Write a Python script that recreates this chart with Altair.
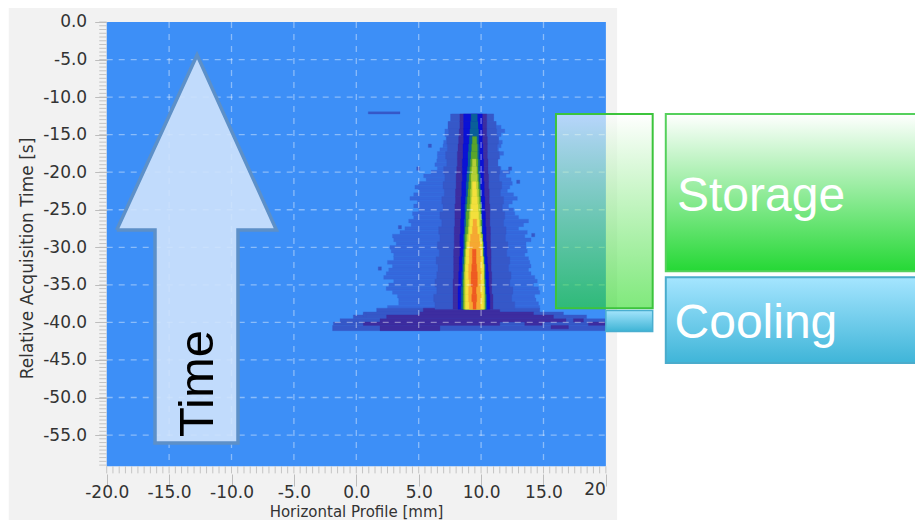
import altair as alt
import pandas as pd

# ---- scale: data units of the original plot, extended so the whole slide fits one view
X_DOMAIN = [-27.91, 44.77]
Y_DOMAIN = [-66.31, 1.864]
X_TICKS = [-20, -15, -10, -5, 0, 5, 10, 15, 20]
Y_TICKS = [0, -5, -10, -15, -20, -25, -30, -35, -40, -45, -50, -55]
X_MINOR = [v / 2 for v in range(-40, 41)]
Y_MINOR = [-v / 2 for v in range(0, 119)]
PLOT_X = [-20.0, 20.0]
PLOT_Y = [0.0, -59.15]

# ---- heat map rows
TOP = -12.25
HALO_L = [7.65,7.65,7.4,7.4,7.1,7.1,7.2,7.0,6.95,6.7,6.5,6.5,6.45,6.3,6.5,6.0,5.4,5.6,5.0,4.7,5.0,4.6,4.3,4.9,4.6,5.0,
          4.5,4.6,4.2,4.4,3.9,3.5,2.9,3.0,3.2,2.7,2.8,3.0,3.0,2.5,2.9,2.6,2.4,2.2,3.0,2.6,2.4,2.9,3.3,3.4,3.4,2.5]
HALO_R = [11.0,11.0,11.2,11.6,11.9,11.6,11.4,11.7,11.6,11.4,11.8,11.5,11.2,11.1,11.6,12.3,12.0,12.4,12.5,12.3,12.1,12.6,12.9,12.5,12.2,12.6,
          12.7,13.0,13.8,13.4,13.0,13.7,13.5,14.0,13.6,13.6,13.7,13.5,13.8,13.9,14.0,13.8,14.0,14.3,14.5,14.2,14.6,14.7,14.3,14.4,14.6,14.7]

MID_L = [7.55,7.35,7.4,7.25,7.3,7.15,7.25,7.0,7.1,6.95,7.05,6.85,6.95,6.7,6.85,6.6,6.7,6.5,6.65,6.4,6.55,6.45,6.3,6.45,6.2,6.3]
MID_R = [11.0,11.2,11.25,11.4,11.3,11.45,11.35,11.5,11.45,11.65,11.55,11.8,11.7,11.9,11.8,12.0,11.95,12.15,12.05,12.3,12.2,12.4,12.3,12.55,12.45,12.7]
PURPLE_L = [8.3,8.3,8.25,8.2,8.15,8.1,8.1,8.05,8.0,8.0,7.95,7.95,7.9,7.9,7.9,7.85,7.85,7.85,7.8,7.8,7.8,7.8,7.75,7.75,7.75,7.75]
PURPLE_R = [10.45,10.45,10.45,10.5,10.5,10.5,10.55,10.55,10.6,10.6,10.65,10.65,10.7,10.7,10.7,10.75,10.75,10.75,10.8,10.8,10.8,10.85,10.85,10.85,10.95,10.95]
BLUE_L = [8.6,8.6,8.6,8.6,8.55,8.55,8.5,8.5,8.5,8.45,8.45,8.4,8.4,8.4,8.35,8.35,8.3,8.3,8.3,8.25,8.25,8.2,8.2,8.15,8.15,8.15]
BLUE_R = [10.1,10.1,10.1,10.1,10.15,10.15,10.2,10.2,10.2,10.25,10.25,10.3,10.3,10.35,10.35,10.4,10.4,10.45,10.45,10.5,10.55,10.6,10.6,10.65,10.7,10.7]
TEAL_L = [9.2,9.15,9.1,9.05,9.0,8.95,8.95,8.9,8.85,8.8,8.8,8.75,8.7,8.7,8.65,8.65,8.6,8.6,8.55,8.5,8.5,8.45,8.45,8.4,8.4,8.4]
TEAL_R = [9.7,9.75,9.8,9.8,9.85,9.85,9.9,9.9,9.95,9.95,10.0,10.0,10.05,10.05,10.1,10.1,10.15,10.2,10.25,10.3,10.35,10.35,10.4,10.4,10.45,10.45]
GREEN_L = [9.3,9.25,9.2,9.15,9.1,9.05,9.0,8.95,8.9,8.85,8.8,8.8,8.75,8.7,8.7,8.65,8.65,8.6,8.6,8.55,8.55,8.55,8.55]
GREEN_R = [9.65,9.7,9.7,9.75,9.75,9.8,9.85,9.9,9.95,10.0,10.0,10.05,10.05,10.1,10.15,10.15,10.2,10.25,10.25,10.3,10.3,10.35,10.35]
LIME_L = [9.3,9.25,9.2,9.2,9.15,9.15,9.1,9.05,9.0,8.95,8.85,8.8,8.75,8.7,8.7,8.65,8.65,8.65,8.65,8.65]
LIME_R = [9.6,9.65,9.7,9.75,9.8,9.85,9.9,9.95,9.95,10.0,10.1,10.15,10.15,10.2,10.25,10.25,10.25,10.3,10.3,10.3]
YELLOW_L = [9.3,9.3,9.25,9.2,9.15,9.1,9.05,9.0,8.9,8.8,8.8,8.75,8.75,8.75,8.75,8.75,8.75]
YELLOW_R = [9.6,9.65,9.7,9.75,9.8,9.85,9.9,9.95,10.05,10.1,10.15,10.2,10.2,10.2,10.2,10.2,10.2]
ORANGE_L = [9.35,9.3,9.15,9.1,9.05,9.05,9.0,9.0,9.05,9.0,9.0,9.05]
ORANGE_R = [9.65,9.7,9.85,9.9,9.95,9.95,9.95,10.0,9.95,9.95,10.0,9.95]
RED_L = [9.3,9.3,9.25,9.2,9.2,9.3,9.25,9.35]
RED_R = [9.6,9.6,9.65,9.7,9.7,9.6,9.65,9.6]

BANDS = [
    ("#3658c8", 0, MID_L, MID_R),
    ("#3d2da0", 0, PURPLE_L, PURPLE_R),
    ("#0a12d6", 0, BLUE_L, BLUE_R),
    ("#0a5f98", 0, TEAL_L, TEAL_R),
    ("#5aa52a", 3, GREEN_L, GREEN_R),
    ("#b4cf35", 6, LIME_L, LIME_R),
    ("#f3e03c", 9, YELLOW_L, YELLOW_R),
    ("#f6a832", 14, ORANGE_L, ORANGE_R),
    ("#ef5a22", 18, RED_L, RED_R),
]
HALO_COLOR = "#3568dc"

BASE_Y = [-38.1, -38.6, -39.0, -39.5, -39.95, -40.4, -41.1]
BASE_L = [1.63, 0.56, -0.24, -1.3, -1.84, -1.9]
BASE_R = [14.7, 16.6, 18.45, 20.0, 20.0, 20.0]
FOOT_L = [5.37, 5.1, 2.43, 1.9, 0.56, 1.9]
FOOT_R = [11.5, 14.2, 15.8, 16.8, 11.5, 6.7]
PATCH_X = [17.4, 18.6, 13.5, 15.6]
PATCH_X2 = [18.2, 20.0, 14.9, 17.0]
PATCH_Y = [-39.5, -39.95, -39.95, -40.4]
PATCH_Y2 = [-39.95, -40.4, -40.4, -40.85]
STREAK = {"x": 0.96, "x2": 3.5, "y": -11.95, "y2": -12.25}
SPECK_X = [5.77, 3.37, 1.76, 14.05, 12.85, 12.2, 4.84, 0.56]
SPECK_Y = [-16.25, -27.1, -32.6, -28.15, -21.05, -19.3, -19.3, -38.8]

# ---- annotation shapes
ARROW_X = [-19.2, -16.13, -16.13, -12.76, -9.48, -9.48, -6.4]
ARROW_TOP = [-27.7, -16.59, -16.59, -4.4, -16.41, -16.41, -27.7]
ARROW_BOT = [-27.7, -27.7, -56.06, -56.06, -56.06, -27.7, -27.7]
OUTLINE_X = [-19.2, -12.76, -6.4, -9.48, -9.48, -16.13, -16.13, -19.2]
OUTLINE_Y = [-27.7, -4.4, -27.7, -27.7, -56.06, -56.06, -27.7, -27.7]

x_scale = alt.Scale(domain=X_DOMAIN, nice=False, zero=False)
y_scale = alt.Scale(domain=Y_DOMAIN, nice=False, zero=False)
AX_X = alt.Axis(
    values=X_TICKS, format=".1f", labelExpr="datum.value == 20 ? '' : replace(datum.label, '\u2212', '-')",
    offset=-46, domain=False, grid=False, tickSize=12, tickColor="#bdbdbd", labelPadding=-2,
    labelFont="DejaVu Sans", labelFontSize=17, labelColor="#333333", labelOverlap=False, labelFlush=False,
    title="Horizontal Profile [mm]", titleFont="DejaVu Sans", titleFontSize=15, titleFontWeight="normal",
    titleColor="#333333", titleX=348, titleY=42, titleBaseline="alphabetic", zindex=1)
AX_Y = alt.Axis(
    values=Y_TICKS, format=".1f", labelExpr="replace(datum.label, '\u2212', '-')", offset=-98.7, domain=False,
    grid=False, tickSize=12, tickColor="#bdbdbd",
    labelPadding=8, labelFont="DejaVu Sans", labelFontSize=17, labelColor="#333333", labelOverlap=False,
    title="Relative Acquisition Time [s]", titleFont="DejaVu Sans", titleFontSize=17, titleFontWeight="normal",
    titleColor="#333333", titlePadding=6, zindex=1, titleY=250)
X = lambda f: alt.X(f, type="quantitative", scale=x_scale, axis=AX_X)
Y = lambda f: alt.Y(f, type="quantitative", scale=y_scale, axis=AX_Y)


def vgrad(c0, c1):
    return alt.LinearGradient(gradient="linear", x1=0, x2=0, y1=0, y2=1,
                              stops=[alt.GradientStop(color=c0, offset=0), alt.GradientStop(color=c1, offset=1)])


def rects(rows, **kw):
    return alt.Chart(pd.DataFrame(rows)).mark_rect(**kw).encode(
        x=X("x"), x2=alt.X2("x2"), y=Y("y"), y2=alt.Y2("y2"))


def rows_df():
    out = []
    for i, (l, r) in enumerate(zip(HALO_L, HALO_R)):
        out.append(dict(x=l, x2=r, y=TOP - i * 0.5, y2=TOP - (i + 1) * 0.5, c=HALO_COLOR))
    for i in range(len(BASE_L)):
        out.append(dict(x=BASE_L[i], x2=BASE_R[i], y=BASE_Y[i], y2=BASE_Y[i + 1], c="#3658c8"))
    for i in range(len(FOOT_L)):
        out.append(dict(x=FOOT_L[i], x2=FOOT_R[i], y=BASE_Y[i], y2=BASE_Y[i + 1], c="#3d2da0"))
    for a, b, c, d in zip(PATCH_X, PATCH_X2, PATCH_Y, PATCH_Y2):
        out.append(dict(x=a, x2=b, y=c, y2=d, c="#3d2da0"))
    for c, start, ls, rs in BANDS:
        for i, (l, r) in enumerate(zip(ls, rs)):
            out.append(dict(x=l, x2=r, y=TOP - (start + i), y2=TOP - (start + i + 1), c=c))
    out.append(dict(STREAK, c="#3658c8"))
    for sx, sy in zip(SPECK_X, SPECK_Y):
        out.append(dict(x=sx, x2=sx + 0.25, y=sy, y2=sy - 0.45, c="#3658c8"))
    return pd.DataFrame(out)


slide_bg = rects([dict(x=-27.85, x2=20.9, y=1.864, y2=Y_DOMAIN[0])], color="#f2f2f2")
plot_bg = rects([dict(x=PLOT_X[0], x2=PLOT_X[1], y=PLOT_Y[0], y2=PLOT_Y[1])], color="#3d8ff7")

heat = alt.Chart(rows_df()).transform_window(idx="row_number()").mark_rect(strokeWidth=0.3).encode(
    x=X("x"), x2=alt.X2("x2"), y=Y("y"), y2=alt.Y2("y2"),
    color=alt.Color("c:N", scale=None), stroke=alt.Stroke("c:N", scale=None),
    order=alt.Order("idx:Q"),
)

grid_v = alt.Chart(pd.DataFrame({"x": X_TICKS[1:-1], "y": PLOT_Y[0], "y2": PLOT_Y[1]})).mark_rule(
    color="#ffffff", opacity=0.4, strokeWidth=1.3, strokeDash=[6, 6]
).encode(x=X("x"), y=Y("y"), y2=alt.Y2("y2"))
grid_h = alt.Chart(pd.DataFrame({"y": Y_TICKS[1:], "x": PLOT_X[0], "x2": PLOT_X[1]})).mark_rule(
    color="#ffffff", opacity=0.4, strokeWidth=1.3, strokeDash=[6, 6]
).encode(y=Y("y"), x=X("x"), x2=alt.X2("x2"))

minor_x = alt.Chart(pd.DataFrame({"x": X_MINOR, "y": PLOT_Y[1], "y2": -60.1})).mark_rule(
    color="#c4c4c4", strokeWidth=1).encode(x=X("x"), y=Y("y"), y2=alt.Y2("y2"))
minor_y = alt.Chart(pd.DataFrame({"y": Y_MINOR, "x": -20.6, "x2": -20.0})).mark_rule(
    color="#c4c4c4", strokeWidth=1).encode(y=Y("y"), x=X("x"), x2=alt.X2("x2"))

arrow_fill = alt.Chart(pd.DataFrame({"x": ARROW_X, "y": ARROW_TOP, "y2": ARROW_BOT})).mark_area(
    color="#cfe3fc", opacity=0.9
).encode(x=X("x"), y=Y("y"), y2=alt.Y2("y2"))
arrow_line = alt.Chart(pd.DataFrame({"x": OUTLINE_X, "y": OUTLINE_Y, "o": range(len(OUTLINE_X))})).mark_line(
    color="#5d90c8", strokeWidth=3.5, strokeJoin="miter"
).encode(x=X("x"), y=Y("y"), order="o:Q")
time_text = alt.Chart(pd.DataFrame({"x": [-11.5], "y": [-55.26], "t": ["Time"]})).mark_text(
    font="Liberation Sans", fontSize=49, angle=270, align="left", baseline="alphabetic", color="#000000"
).encode(x=X("x"), y=Y("y"), text="t:N")

# the reference cuts its last tick label at the plot's right edge, leaving "20"
label_20 = alt.Chart(pd.DataFrame({"x": [20.0], "y": [-62.3], "t": ["20"]})).mark_text(
    font="DejaVu Sans", fontSize=17, color="#333333", baseline="middle", align="right"
).encode(x=X("x"), y=Y("y"), text="t:N")

store_ov = rects([dict(x=16.0, x2=23.75, y=-12.25, y2=-38.1)],
                 color=vgrad("rgba(255,255,255,0.63)", "rgba(37,217,30,0.58)"), stroke="#3cc43c", strokeWidth=2)
cool_ov = rects([dict(x=20.0, x2=23.75, y=-38.4, y2=-41.2)],
                color=vgrad("#a4e4fc", "#3eb4d5"), stroke="#4aaed0", strokeWidth=1.5)
store_box = rects([dict(x=24.8, x2=45.6, y=-12.25, y2=-33.2)],
                  color=vgrad("#ffffff", "#25d835"), stroke="#55d05c", strokeWidth=2)
cool_box = rects([dict(x=24.8, x2=45.6, y=-34.0, y2=-45.4)],
                 color=vgrad("#a5e5ff", "#3fb5d8"), stroke="#4aaccc", strokeWidth=2)
label_df = pd.DataFrame({"x": [25.7, 25.5], "y": [-25.1, -42.1], "t": ["Storage", "Cooling"]})
box_text = alt.Chart(label_df).mark_text(
    font="Liberation Sans", fontSize=48, color="#ffffff", align="left", baseline="alphabetic"
).encode(x=X("x"), y=Y("y"), text="t:N")

chart = alt.layer(
    slide_bg, plot_bg, heat, grid_v, grid_h, minor_x, minor_y,
    label_20, store_ov, cool_ov, store_box, cool_box, box_text,
    arrow_fill, arrow_line, time_text,
).properties(
    width=907, height=512, padding=0, autosize=alt.AutoSizeParams(type="none"), background="#ffffff"
).configure_view(stroke=None)

chart.save("out.html", embed_options={"renderer": "svg", "actions": False})
